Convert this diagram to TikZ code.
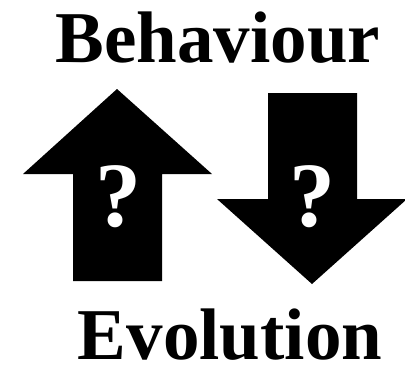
\documentclass[tikz,border=0pt]{standalone}
\usepackage{fontspec}
\setmainfont{Liberation Serif}
\usetikzlibrary{positioning}

\begin{document}
\begin{tikzpicture}[x=1pt,y=-1pt,
  word/.style={font=\fontsize{73}{73}\selectfont\bfseries,inner sep=0pt,anchor=base},
  query/.style={font=\fontsize{92}{92}\selectfont\bfseries,text=white,inner sep=0pt,anchor=base}]
\useasboundingbox (0,0) rectangle (405,368);
% up arrow
\fill (117,89) -- (212,174) -- (162,174) -- (162,281) -- (73,281) -- (73,174) -- (23,174) -- cycle;
% down arrow
\fill (268,93) -- (357,93) -- (357,199) -- (407,199) -- (312,284) -- (217,199) -- (268,199) -- cycle;
\node[word] (behaviour) at (218,62) {Behaviour};
\node[word] (evolution) at (230,359) {Evolution};
\node[query] (upq) at (118,226) {?};
\node[query] (downq) at (312,226) {?};
\end{tikzpicture}
\end{document}
